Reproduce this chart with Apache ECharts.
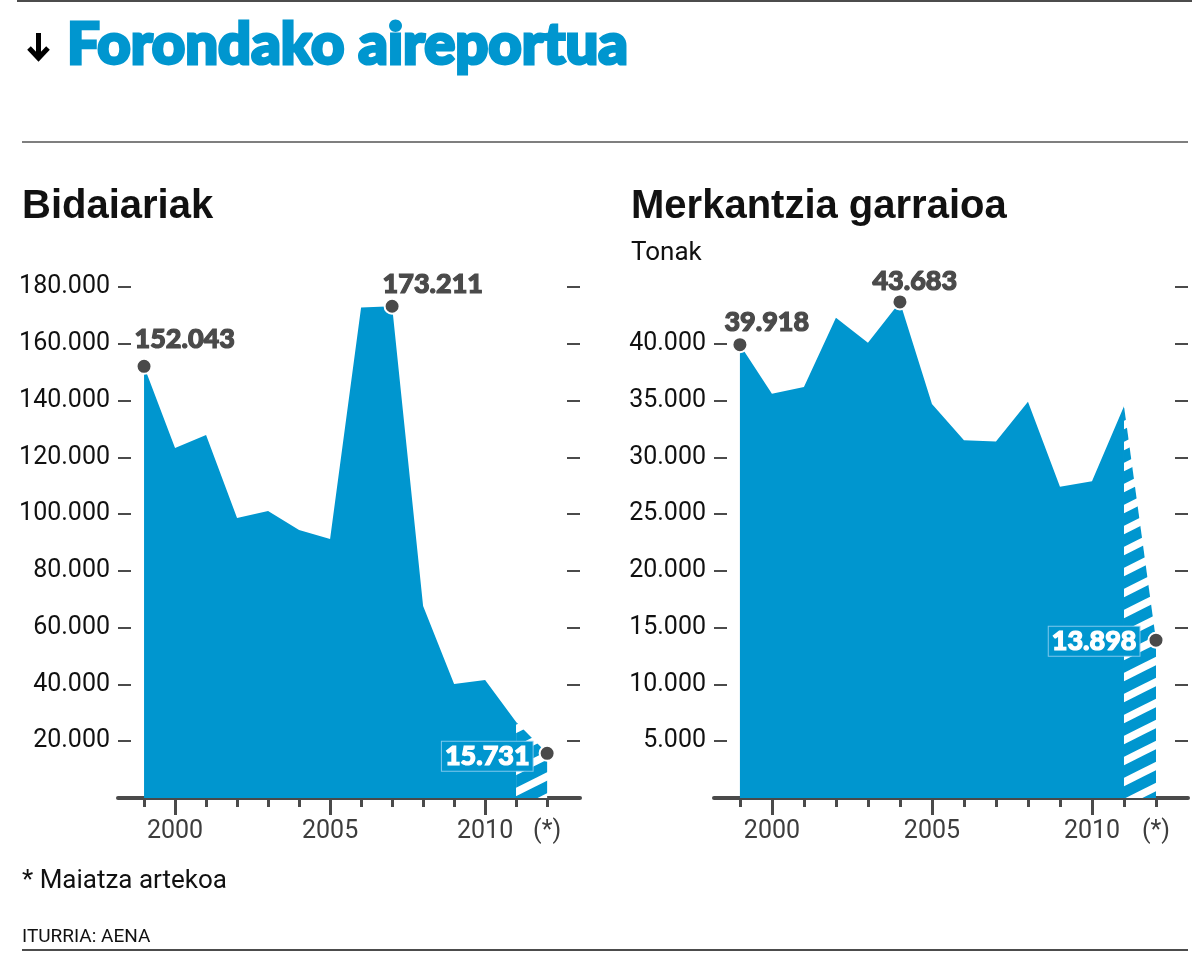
<!DOCTYPE html>
<html>
<head>
<meta charset="utf-8">
<script src="https://cdn.jsdelivr.net/npm/echarts@6/dist/echarts.min.js"></script>
<style>
  html, body { margin: 0; padding: 0; background: #fff; }
  #chart { width: 1192px; height: 954px; }
</style>
</head>
<body>
<div id="chart"></div>
<script>
// ---- Data ----
const years = [1999, 2000, 2001, 2002, 2003, 2004, 2005, 2006, 2007, 2008, 2009, 2010, 2011, 2012];
const passengers = [152043, 123300, 127900, 98600, 101100, 94400, 91200, 172800, 173211, 67600, 40200, 41600, 26800, 15731];
const cargo = [39918, 35600, 36200, 42300, 40100, 43683, 34700, 31500, 31400, 34900, 27400, 27900, 34500, 13898];
const passengerLabelIdx = [0, 8, 13];
const cargoLabelIdx = [0, 5, 13];
const xLabelValues = [2000, 2005, 2010, 2012];
const xLabelTexts = ['2000', '2005', '2010', '(*)'];
const xMajorTicks = [2000, 2005, 2010];
const leftYTicks = [20000, 40000, 60000, 80000, 100000, 120000, 140000, 160000, 180000];
const rightYTicksLeft = [5000, 10000, 15000, 20000, 25000, 30000, 35000, 40000];
const rightYTicksRight = [5000, 10000, 15000, 20000, 25000, 30000, 35000, 40000, 45000];

const BLUE = '#0096cf';
const DARK = '#4a4a4a';
const LABEL_FONT = 'Lato';

function fmt(v) {
  return String(Math.round(v)).replace(/\B(?=(\d{3})+(?!\d))/g, '.');
}

// hatch pattern
function makePattern() {
  const c = document.createElement('canvas');
  const W = 42, H = 21;
  c.width = W; c.height = H;
  const g = c.getContext('2d');
  g.fillStyle = BLUE;
  g.fillRect(0, 0, W, H);
  g.fillStyle = '#ffffff';
  const t = 4.2;
  for (let k = -1; k <= 1; k++) {
    const o = k * H;
    g.beginPath();
    g.moveTo(0, H - t + o);
    g.lineTo(W, -t + o);
    g.lineTo(W, t + o);
    g.lineTo(0, H + t + o);
    g.closePath();
    g.fill();
  }
  return c;
}
const pattern = { image: makePattern(), repeat: 'repeat' };

// title width fit
const mctx = document.createElement('canvas').getContext('2d');
const titleFont = '900 58px Lato, "DejaVu Sans Condensed", sans-serif';
mctx.font = titleFont;
const titleW = mctx.measureText('Forondako aireportua').width + 3;
const titleScale = 564 / titleW;

function zip(xs, ys) { return xs.map((x, i) => [x, ys[i]]); }

function xAxesFor(gridIndex, min, max) {
  return [
    {
      type: 'value', gridIndex, min, max, position: 'bottom',
      axisLine: { show: true, lineStyle: { color: DARK, width: 4 } },
      axisTick: { show: true, customValues: years, length: 9, lineStyle: { color: DARK, width: 3 } },
      axisLabel: { show: false },
      splitLine: { show: false }
    },
    {
      type: 'value', gridIndex, min, max, position: 'bottom', offset: 0,
      axisLine: { show: false },
      axisTick: { show: true, customValues: xMajorTicks, length: 17, lineStyle: { color: DARK, width: 3 } },
      axisLabel: {
        show: true, customValues: xLabelValues, margin: 21,
        fontFamily: 'Roboto', fontSize: 25, color: '#3d3d3d',
        formatter: v => xLabelTexts[xLabelValues.indexOf(Math.round(v))] || ''
      },
      splitLine: { show: false }
    }
  ];
}

function yAxesFor(gridIndex, max, leftTicks, rightTicks) {
  return [
    {
      type: 'value', gridIndex, min: 0, max, position: 'left',
      axisLine: { show: false },
      axisTick: { show: true, inside: true, length: 13, customValues: leftTicks, lineStyle: { color: '#111', width: 1.5 } },
      axisLabel: {
        show: true, customValues: leftTicks, margin: 8,
        fontFamily: 'Roboto', fontSize: 25, color: '#111',
        formatter: v => fmt(v)
      },
      splitLine: { show: false }
    },
    {
      type: 'value', gridIndex, min: 0, max, position: 'right',
      axisLine: { show: false },
      axisTick: { show: true, inside: true, length: 13, customValues: rightTicks, lineStyle: { color: '#111', width: 1.5 } },
      axisLabel: { show: false },
      splitLine: { show: false }
    }
  ];
}

const baseLabel = {
  show: true, fontFamily: LABEL_FONT, fontWeight: 900, fontSize: 27, color: DARK,
  textBorderColor: DARK, textBorderWidth: 1.2,
  formatter: p => fmt(p.value[1])
};
const hatchLabel = {
  show: true, fontFamily: LABEL_FONT, fontWeight: 900, fontSize: 27, color: '#fff',
  textBorderColor: '#fff', textBorderWidth: 1.2,
  backgroundColor: BLUE, borderColor: 'rgba(140,205,240,0.9)', borderWidth: 1,
  padding: [2, 3, 0, 3],
  formatter: p => fmt(p.value[1])
};

function seriesFor(xi, yi, values, labelIdx, labelCfgs) {
  const n = years.length;
  return [
    {
      type: 'line', xAxisIndex: xi, yAxisIndex: yi,
      data: zip(years.slice(0, n - 1), values.slice(0, n - 1)),
      symbol: 'none', lineStyle: { width: 0 },
      areaStyle: { color: BLUE, opacity: 1 }, z: 2
    },
    {
      type: 'line', xAxisIndex: xi, yAxisIndex: yi,
      data: zip(years.slice(n - 2), values.slice(n - 2)),
      symbol: 'none', lineStyle: { width: 0 },
      areaStyle: { color: pattern, opacity: 1 }, z: 2
    },
    {
      type: 'scatter', xAxisIndex: xi, yAxisIndex: yi, z: 5,
      symbol: 'circle', symbolSize: 15,
      itemStyle: { color: DARK, borderColor: '#fff', borderWidth: 2, opacity: 1 },
      data: labelIdx.map((idx, k) => ({
        value: [years[idx], values[idx]],
        label: labelCfgs[k]
      }))
    }
  ];
}

const leftLabels = [
  Object.assign({}, baseLabel, { position: [-1, -19], align: 'left', verticalAlign: 'middle' }),
  Object.assign({}, baseLabel, { position: [-1, -13], align: 'left', verticalAlign: 'middle' }),
  Object.assign({}, hatchLabel, { position: 'left', distance: 6, offset: [0, 3] })
];
const rightLabels = [
  Object.assign({}, baseLabel, { position: [-7, -14], align: 'left', verticalAlign: 'middle' }),
  Object.assign({}, baseLabel, { position: [-19, -12], align: 'left', verticalAlign: 'middle' }),
  Object.assign({}, hatchLabel, { position: 'left', distance: 8, offset: [0, 1] })
];

const option = {
  animation: false,
  backgroundColor: '#fff',
  grid: [
    { left: 118, width: 462, top: 287, height: 511 },
    { left: 714, width: 474, top: 287, height: 511 }
  ],
  xAxis: [].concat(xAxesFor(0, 1998.16, 2013.06), xAxesFor(1, 1998.19, 2013.0)),
  yAxis: [].concat(yAxesFor(0, 180000, leftYTicks, leftYTicks), yAxesFor(1, 45000, rightYTicksLeft, rightYTicksRight)),
  series: [].concat(
    seriesFor(0, 0, passengers, passengerLabelIdx, leftLabels),
    seriesFor(2, 2, cargo, cargoLabelIdx, rightLabels)
  ),
  graphic: [
    { type: 'line', shape: { x1: 17, y1: 1, x2: 1192, y2: 1 }, style: { stroke: '#111', lineWidth: 1.5 } },
    { type: 'line', shape: { x1: 22, y1: 142, x2: 1188, y2: 142 }, style: { stroke: '#555', lineWidth: 1.5 } },
    { type: 'line', shape: { x1: 22, y1: 950, x2: 1188, y2: 950 }, style: { stroke: '#111', lineWidth: 1.5 } },
    // arrow
    { type: 'line', shape: { x1: 38.5, y1: 33, x2: 38.5, y2: 58 }, style: { stroke: '#000', lineWidth: 5 } },
    { type: 'polyline', shape: { points: [[29, 48], [38.5, 58], [48, 48]] }, style: { stroke: '#000', lineWidth: 5, fill: null, lineJoin: 'miter' } },
    // title
    { type: 'text', x: 67, y: 45, scaleX: titleScale, scaleY: 1,
      style: { text: 'Forondako aireportua', font: titleFont, fill: BLUE, stroke: BLUE, lineWidth: 3,
               verticalAlign: 'middle', align: 'left' } },
    { type: 'text', x: 22, y: 207,
      style: { text: 'Bidaiariak', font: 'bold 40px "Liberation Sans", Arial, sans-serif', fill: '#111', verticalAlign: 'middle' } },
    { type: 'text', x: 631, y: 207,
      style: { text: 'Merkantzia garraioa', font: 'bold 40px "Liberation Sans", Arial, sans-serif', fill: '#111', verticalAlign: 'middle' } },
    { type: 'text', x: 631, y: 253,
      style: { text: 'Tonak', font: '26px Roboto, sans-serif', fill: '#111', verticalAlign: 'middle' } },
    { type: 'text', x: 22, y: 881,
      style: { text: '* Maiatza artekoa', font: '26px Roboto, sans-serif', fill: '#111', verticalAlign: 'middle' } },
    { type: 'text', x: 22, y: 937,
      style: { text: 'ITURRIA: AENA', font: '19px Roboto, sans-serif', fill: '#111', verticalAlign: 'middle' } }
  ]
};

const chart = echarts.init(document.getElementById('chart'), null, { renderer: 'canvas' });
chart.setOption(option);
</script>
</body>
</html>
